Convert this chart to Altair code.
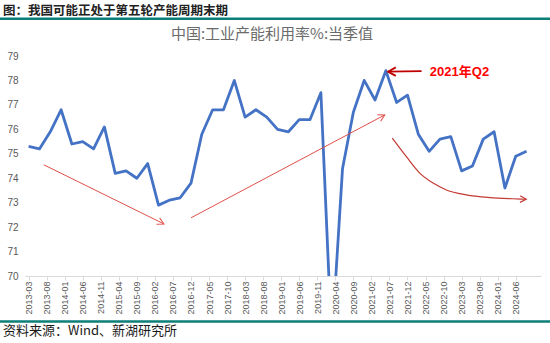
import altair as alt
import pandas as pd

# ---------------- data ----------------
quarters = [
    "2013-03", "2013-06", "2013-09", "2013-12",
    "2014-03", "2014-06", "2014-09", "2014-12",
    "2015-03", "2015-06", "2015-09", "2015-12",
    "2016-03", "2016-06", "2016-09", "2016-12",
    "2017-03", "2017-06", "2017-09", "2017-12",
    "2018-03", "2018-06", "2018-09", "2018-12",
    "2019-03", "2019-06", "2019-09", "2019-12",
    "2020-03", "2020-06", "2020-09", "2020-12",
    "2021-03", "2021-06", "2021-09", "2021-12",
    "2022-03", "2022-06", "2022-09", "2022-12",
    "2023-03", "2023-06", "2023-09", "2023-12",
    "2024-03", "2024-06", "2024-09",
]
utilization = [
    75.3, 75.2, 75.9, 76.8,
    75.4, 75.5, 75.2, 76.1,
    74.2, 74.3, 74.0, 74.6,
    72.9, 73.1, 73.2, 73.8,
    75.8, 76.8, 76.8, 78.0,
    76.5, 76.8, 76.5, 76.0,
    75.9, 76.4, 76.4, 77.5,
    67.3, 74.4, 76.7, 78.0,
    77.2, 78.4, 77.1, 77.4,
    75.8, 75.1, 75.6, 75.7,
    74.3, 74.5, 75.6, 75.9,
    73.6, 74.9, 75.1,
]
tick_labels = [
    "2013-03", "2013-08", "2014-01", "2014-06", "2014-11", "2015-04", "2015-09",
    "2016-02", "2016-07", "2016-12", "2017-05", "2017-10", "2018-03", "2018-08",
    "2019-01", "2019-06", "2019-11", "2020-04", "2020-09", "2021-02", "2021-07",
    "2021-12", "2022-05", "2022-10", "2023-03", "2023-08", "2024-01", "2024-06",
]
y_ticks = [70, 71, 72, 73, 74, 75, 76, 77, 78, 79]

title_text = "中国:工业产能利用率%:当季值"
header_text = "图：我国可能正处于第五轮产能周期末期"
footer_text = "资料来源：Wind、新湖研究所"
callout_text = "2021年Q2"

# annotation arrows (in month-index / value space)
arrow_straight_id = ["a1", "a1", "a2", "a2"]
arrow_straight_m = [4.2, 37.5, 45.0, 98.7]
arrow_straight_v = [74.55, 72.13, 72.38, 76.59]

curve_m = [100.8, 104.7, 108.4, 112.1, 115.8, 121.3, 127.8, 134.2, 137.9]
curve_v = [75.64, 74.88, 74.21, 73.80, 73.52, 73.32, 73.21, 73.16, 73.14]

callout_m = [108.9, 99.6]
callout_v = [78.38, 78.36]
callout_text_m = [111.2]
callout_text_v = [78.36]

head_m = [37.5, 98.7, 137.9, 99.6]
head_v = [72.13, 76.59, 73.14, 78.36]
head_angle = [26, 332, 2, 180]
head_color = ["#E0504A", "#E0504A", "#C43A34", "#C00000"]
head_size = [170, 170, 150, 240]
head_width = [1, 1, 1.2, 1.8]


def month_index(s):
    y, m = s.split("-")
    return (int(y) - 2013) * 12 + int(m) - 3


df = pd.DataFrame({"q": quarters, "v": utilization})
df["m"] = df["q"].map(month_index)
tick_vals = [month_index(s) for s in tick_labels]

label_expr = (
    "toString(2013 + floor((datum.value + 2) / 12)) + '-' + "
    "((((datum.value + 2) % 12) + 1) < 10 ? '0' : '') + "
    "toString(((datum.value + 2) % 12) + 1)"
)

xscale = alt.Scale(domain=[-1, 142], nice=False, zero=False)
yscale = alt.Scale(domain=[70, 79], nice=False, zero=False)

x_axis = alt.Axis(
    values=tick_vals, labelExpr=label_expr, labelAngle=270,
    labelFontSize=9, labelFont="Liberation Sans", labelColor="#595959",
    labelOverlap=False, labelPadding=1, labelBound=False, labelFlush=False,
    domainColor="#D9D9D9", tickColor="#D9D9D9", tickSize=4, grid=False,
)
y_axis = alt.Axis(
    values=y_ticks, labelFontSize=10, labelFont="Liberation Sans",
    labelColor="#595959", domain=False, ticks=False, grid=False,
    labelPadding=7, labelOverlap=False, labelFlush=False,
)


def X():
    return alt.X("m:Q", scale=xscale, title=None, axis=x_axis)


def Y():
    return alt.Y("v:Q", scale=yscale, title=None, axis=y_axis)


line = alt.Chart(df).mark_line(
    color="#4472C4", strokeWidth=2.8, clip=True, strokeJoin="round"
).encode(x=X(), y=Y(), order="m:Q")

arrows_df = pd.DataFrame({"id": arrow_straight_id, "m": arrow_straight_m, "v": arrow_straight_v})
arrows = alt.Chart(arrows_df).mark_line(color="#E0504A", strokeWidth=1).encode(
    x=X(), y=Y(), detail="id:N"
)

curve_df = pd.DataFrame({"m": curve_m, "v": curve_v})
curve = alt.Chart(curve_df).mark_line(
    color="#C43A34", strokeWidth=1.2, interpolate="monotone"
).encode(x=X(), y=Y(), order="m:Q")

callout_df = pd.DataFrame({"m": callout_m, "v": callout_v})
callout = alt.Chart(callout_df).mark_line(color="#C00000", strokeWidth=1.8).encode(
    x=X(), y=Y()
)

heads_df = pd.DataFrame({
    "m": head_m, "v": head_v, "a": head_angle, "c": head_color,
    "s": head_size, "w": head_width,
})
heads = alt.Chart(heads_df).mark_point(
    shape="M -1 -0.55 L 0 0 L -1 0.55", filled=False, opacity=1
).encode(
    x=X(), y=Y(),
    angle=alt.Angle("a:Q", scale=None),
    color=alt.Color("c:N", scale=None),
    size=alt.Size("s:Q", scale=None),
    strokeWidth=alt.StrokeWidth("w:Q", scale=None),
)

ctext_df = pd.DataFrame({"m": callout_text_m, "v": callout_text_v, "t": [callout_text]})
ctext = alt.Chart(ctext_df).mark_text(
    align="left", baseline="middle", fontSize=13, fontWeight="bold",
    font="Liberation Sans, Noto Sans CJK SC", color="#FF0000",
).encode(x=X(), y=Y(), text="t:N")

# plot origin is at (25, 56) in page pixels
title = alt.Chart(pd.DataFrame({"t": [title_text]})).mark_text(
    align="center", baseline="middle", fontSize=15,
    font="Noto Sans CJK SC", color="#6B6B6B",
).encode(x=alt.value(247), y=alt.value(-22), text="t:N")

header = alt.Chart(pd.DataFrame({"t": [header_text]})).mark_text(
    align="left", baseline="alphabetic", fontSize=12.5, fontWeight="bold",
    font="Noto Sans CJK SC", color="#222222",
).encode(x=alt.value(-22), y=alt.value(-41.5), text="t:N")

footer = alt.Chart(pd.DataFrame({"t": [footer_text]})).mark_text(
    align="left", baseline="middle", fontSize=13,
    font="Noto Sans CJK SC", color="#1A1A1A",
).encode(x=alt.value(-22), y=alt.value(275), text="t:N")

rule_df = pd.DataFrame({"k": [1]})
top_rule = alt.Chart(rule_df).mark_rule(color="#0B7F78", strokeWidth=2.5).encode(
    x=alt.value(-25), x2=alt.value(525), y=alt.value(-37.3)
)
bottom_rule = alt.Chart(rule_df).mark_rule(color="#0B7F78", strokeWidth=2.5).encode(
    x=alt.value(-25), x2=alt.value(525), y=alt.value(265.5)
)

chart = alt.layer(
    line, arrows, curve, callout, heads, ctext, title, header, footer, top_rule, bottom_rule
).properties(
    width=516, height=220,
    padding={"left": 25, "top": 56, "right": 9, "bottom": 67},
    autosize=alt.AutoSizeParams(type="none"),
    background="white",
).configure_view(strokeWidth=0)

chart.save("out.html", embed_options={"renderer": "svg", "actions": False})
